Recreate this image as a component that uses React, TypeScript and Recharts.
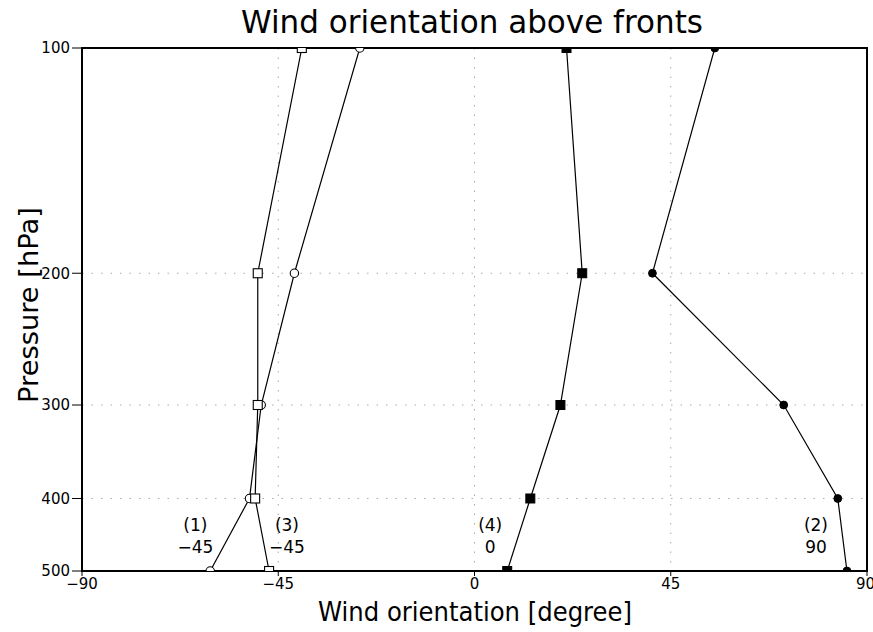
import React from 'react';
import { ScatterChart, Scatter, XAxis, YAxis, CartesianGrid, ReferenceArea } from 'recharts';

// Pressure levels (hPa) at which the wind orientation is given
const pressureLevels = [100, 200, 300, 400, 500];

// Wind orientation (degree) per case, listed from 100 hPa down to 500 hPa
const orientationCase1 = [-26.3, -41.3, -48.9, -51.6, -60.6]; // open circles
const orientationCase2 = [55.1, 40.8, 70.9, 83.3, 85.4]; // filled circles
const orientationCase3 = [-39.6, -49.7, -49.7, -50.3, -47.1]; // open squares
const orientationCase4 = [21.1, 24.7, 19.7, 12.8, 7.5]; // filled squares

// Axis ticks
const xTicks = [-90, -45, 0, 45, 90];
const yTicks = [100, 200, 300, 400, 500];

// Case annotations near the bottom of the frame
const caseIds = ['(1)', '(2)', '(3)', '(4)'];
const caseFrontAngle = ['−45', '90', '−45', '0'];
const caseLabelX = [-64, 78.3, -43, 3.6];
const caseLabelPressure = 434;

const FONT = "'DejaVu Sans', 'Liberation Sans', sans-serif";

const toPoints = (xs: number[]) => xs.map((x, i) => ({ x, p: pressureLevels[i] }));

const annotationData = caseIds.map((id, i) => ({
  x: caseLabelX[i],
  p: caseLabelPressure,
  id,
  angle: caseFrontAngle[i],
}));

const OpenSquare = (props: any) => (
  <rect x={props.cx - 4.5} y={props.cy - 4.5} width={9} height={9} fill="#fff" stroke="#000" strokeWidth={1.1} />
);
const FilledSquare = (props: any) => (
  <rect x={props.cx - 4.5} y={props.cy - 4.5} width={9} height={9} fill="#000" stroke="#000" strokeWidth={1} />
);
const OpenCircle = (props: any) => (
  <circle cx={props.cx} cy={props.cy} r={4.2} fill="#fff" stroke="#000" strokeWidth={1.1} />
);
const FilledCircle = (props: any) => (
  <circle cx={props.cx} cy={props.cy} r={3.9} fill="#000" stroke="#000" strokeWidth={1} />
);

const CaseLabel = (props: any) => {
  const { cx, cy, payload } = props;
  return (
    <g fontFamily={FONT} fontSize={17} fill="#000">
      <text x={cx} y={cy} textAnchor="middle" dominantBaseline="central">
        {payload.id}
      </text>
      <text x={cx} y={cy + 22} textAnchor="middle" dominantBaseline="central">
        {payload.angle}
      </text>
    </g>
  );
};

const lineStyle = { stroke: '#000', strokeWidth: 1.2 };

export default function App() {
  return (
    <div style={{ position: 'absolute', left: 0, top: 0, background: '#fff' }}>
      <ScatterChart width={873} height={632} margin={{ top: 48, right: 6, bottom: 0, left: 0 }}>
        <CartesianGrid stroke="#aaa" strokeDasharray="1.5 8" verticalValues={xTicks} horizontalValues={yTicks} />
        <XAxis
          type="number"
          dataKey="x"
          domain={[-90, 90]}
          ticks={xTicks}
          allowDataOverflow
          height={61}
          tickSize={5}
          tickLine={{ stroke: '#000' }}
          axisLine={{ stroke: '#000', strokeWidth: 2 }}
          tick={{ fill: '#000', fontSize: 15, fontFamily: FONT }}
          tickFormatter={(v: number) => (v < 0 ? `−${-v}` : `${v}`)}
        />
        <YAxis
          type="number"
          dataKey="p"
          scale="log"
          domain={[100, 500]}
          ticks={yTicks}
          reversed
          allowDataOverflow
          width={82}
          tickSize={10}
          tickLine={{ stroke: '#000' }}
          axisLine={{ stroke: '#000', strokeWidth: 2 }}
          tick={{ fill: '#000', fontSize: 15, fontFamily: FONT }}
        />
        <ReferenceArea x1={-90} x2={90} y1={100} y2={500} fill="none" stroke="#000" strokeWidth={2} ifOverflow="visible" />
        <Scatter data={toPoints(orientationCase1)} line={lineStyle} lineJointType="linear" shape={OpenCircle} isAnimationActive={false} />
        <Scatter data={toPoints(orientationCase3)} line={lineStyle} lineJointType="linear" shape={OpenSquare} isAnimationActive={false} />
        <Scatter data={toPoints(orientationCase4)} line={lineStyle} lineJointType="linear" shape={FilledSquare} isAnimationActive={false} />
        <Scatter data={toPoints(orientationCase2)} line={lineStyle} lineJointType="linear" shape={FilledCircle} isAnimationActive={false} />
        <Scatter data={annotationData} shape={CaseLabel} isAnimationActive={false} />
        <text x={472} y={33} textAnchor="middle" fontFamily={FONT} fontSize={32} fill="#000" textLength={462} lengthAdjust="spacingAndGlyphs">
          Wind orientation above fronts
        </text>
        <text x={475} y={621} textAnchor="middle" fontFamily={FONT} fontSize={27} fill="#000" textLength={314} lengthAdjust="spacingAndGlyphs">
          Wind orientation [degree]
        </text>
        <text
          x={0}
          y={0}
          transform="translate(38 305) rotate(-90)"
          textAnchor="middle"
          fontFamily={FONT}
          fontSize={27}
          fill="#000"
          textLength={196}
          lengthAdjust="spacingAndGlyphs"
        >
          Pressure [hPa]
        </text>
      </ScatterChart>
    </div>
  );
}
